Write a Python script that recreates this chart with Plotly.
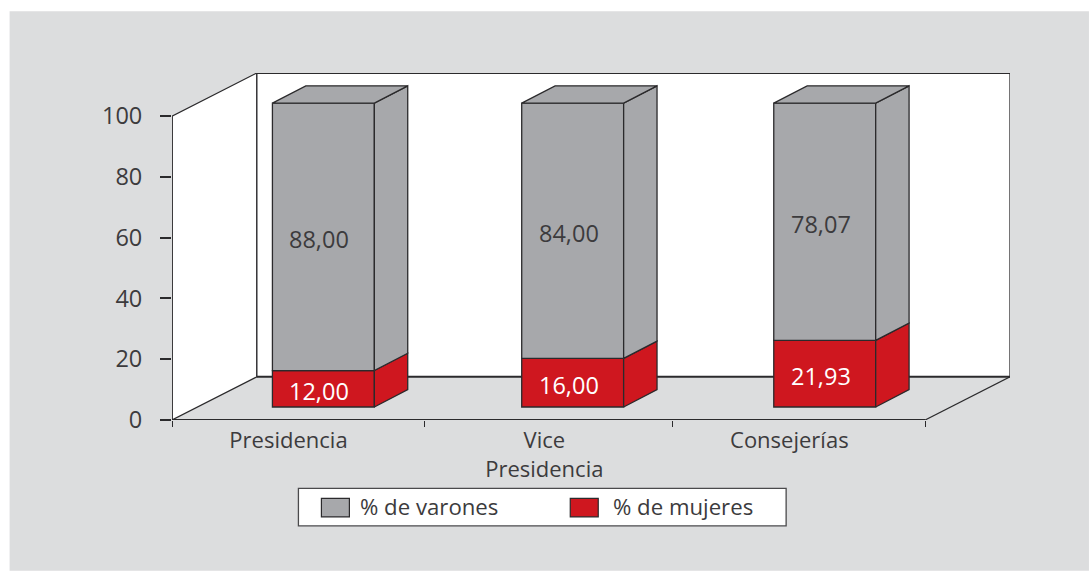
import plotly.graph_objects as go

categories = ["Presidencia", "Vice<br>Presidencia", "Consejerías"]
varones = [88.00, 84.00, 78.07]
mujeres = [12.00, 16.00, 21.93]
y_ticks = [0, 20, 40, 60, 80, 100]
x_boundaries = [0, 1.007, 1.995, 3]
label_positions = [0.464, 1.483, 2.459]
bar_centers = [0.603, 1.596, 2.600]

W, H = 1089, 571
L, R, T, B = 171.5, 1010, 72.7, 420
X_MAX = 3.338
Y_MAX = 114.2
WALL_DX, WALL_DY = X_MAX - 3, Y_MAX - 100
BAR_W = 0.406
BAR_BASE = 4.28
BAR_DX, BAR_DY = 0.133, 5.7

GRAY, RED, BG = "#a7a8ab", "#cf171f", "#dcddde"
INK, TEXT = "#2b2a2c", "#3c3b3d"
FONT = "Open Sans"
FS = 22
FS_NUM = 23.5


def fmt(v):
    return f"{v:.2f}".replace(".", ",")


def px(x):
    return (x - L) / (R - L)


def py(y):
    return (B - y) / (B - T)


fig = go.Figure()
shapes = [dict(type="rect", xref="paper", yref="paper", x0=px(9), x1=px(1089), y0=py(11), y1=py(571),
               fillcolor=BG, line_width=0, layer="below")]


def poly(pts):
    return "M" + "L".join(f"{a},{b}" for a, b in pts) + "Z"


# walls
shapes.append(dict(type="path", path=poly([(0, 0), (WALL_DX, WALL_DY), (WALL_DX, Y_MAX), (0, 100)]),
                   fillcolor="white", line=dict(color=INK, width=1.2), layer="below"))
shapes.append(dict(type="path", path=poly([(WALL_DX, WALL_DY), (X_MAX, WALL_DY), (X_MAX, Y_MAX), (WALL_DX, Y_MAX)]),
                   fillcolor="white", line=dict(color=INK, width=0), layer="below"))
for (a, b, c, d, w) in [(WALL_DX, Y_MAX, WALL_DX, WALL_DY, 1.3), (WALL_DX, WALL_DY, X_MAX, WALL_DY, 2),
                        (3, 0, X_MAX, WALL_DY, 1.2)]:
    shapes.append(dict(type="line", x0=a, y0=b, x1=c, y1=d, line=dict(color=INK, width=w), layer="below"))


# frame lines on the plot edge, as unclipped traces so their full width shows
for (xs, ys, w) in [([0, 3], [0, 0], 2), ([0, 0], [0, 100], 1.6),
                    ([WALL_DX, X_MAX], [Y_MAX, Y_MAX], 2), ([X_MAX, X_MAX], [WALL_DY, Y_MAX], 1.3)]:
    fig.add_trace(go.Scatter(x=xs, y=ys, mode="lines", line=dict(color=INK, width=w), cliponaxis=False,
                             hoverinfo="skip", showlegend=False))


def face(x, y, color):
    fig.add_trace(go.Scatter(x=x, y=y, mode="lines", fill="toself", fillcolor=color,
                             line=dict(color=INK, width=1.3), hoverinfo="skip", showlegend=False))


annotations = []
for xc, m, v in zip(bar_centers, mujeres, varones):
    xr = xc + BAR_W / 2
    xl = xc - BAR_W / 2
    y0, y1, y2 = BAR_BASE, BAR_BASE + m, BAR_BASE + m + v
    face([xr, xr + BAR_DX, xr + BAR_DX, xr, xr], [y0, y0 + BAR_DY, y1 + BAR_DY, y1, y0], RED)
    face([xr, xr + BAR_DX, xr + BAR_DX, xr, xr], [y1, y1 + BAR_DY, y2 + BAR_DY, y2, y1], GRAY)
    face([xl, xl + BAR_DX, xr + BAR_DX, xr, xl], [y2, y2 + BAR_DY, y2 + BAR_DY, y2, y2], GRAY)
    for val, mid, col in [(m, (y0 + y1) / 2, "white"), (v, (y1 + y2) / 2, TEXT)]:
        annotations.append(dict(x=xc, y=mid, text=fmt(val), showarrow=False, xshift=-4, yshift=-2,
                                font=dict(family=FONT, size=FS_NUM, color=col)))

fig.add_trace(go.Bar(name="% de mujeres", x=bar_centers, y=mujeres, base=[BAR_BASE] * 3, width=BAR_W,
                     marker=dict(color=RED, line=dict(color=INK, width=1.3)), showlegend=False))
fig.add_trace(go.Bar(name="% de varones", x=bar_centers, y=varones,
                     base=[BAR_BASE + m for m in mujeres], width=BAR_W,
                     marker=dict(color=GRAY, line=dict(color=INK, width=1.3)), showlegend=False))

# legend box
shapes.append(dict(type="rect", xref="paper", yref="paper", x0=px(298), x1=px(786), y0=py(488.5), y1=py(526),
                   fillcolor="white", line=dict(color="#4a4a4c", width=1.3), layer="below"))
for x0, color, name, tx in [(321, GRAY, "% de varones", 360), (570, RED, "% de mujeres", 613)]:
    shapes.append(dict(type="rect", xref="paper", yref="paper", x0=px(x0), x1=px(x0 + 28), y0=py(498.5), y1=py(517),
                       fillcolor=color, line=dict(color=INK, width=1.2), layer="below"))
    annotations.append(dict(xref="paper", yref="paper", x=px(tx), y=py(507), text=name, showarrow=False,
                            xanchor="left", yanchor="middle", borderpad=0, xshift=-1,
                            font=dict(family=FONT, size=FS + 0.2, color=TEXT)))

fig.update_layout(
    width=W, height=H, autosize=False, barmode="overlay",
    margin=dict(l=L, r=W - R, t=T, b=H - B, pad=0),
    paper_bgcolor="white", plot_bgcolor="rgba(0,0,0,0)",
    showlegend=False, shapes=shapes, annotations=annotations,
    font=dict(family=FONT, size=FS, color=TEXT),
    xaxis=dict(range=[0, X_MAX], tickvals=label_positions, ticktext=categories, ticks="", showgrid=False,
               zeroline=False, showline=False, ticklabelstandoff=5, tickfont=dict(family=FONT, size=FS, color=TEXT),
               minor=dict(tickvals=x_boundaries, ticks="outside", ticklen=6, tickwidth=1.3, tickcolor=INK,
                          showgrid=False)),
    yaxis=dict(range=[0, Y_MAX], tickvals=y_ticks, ticks="outside", ticklen=11, tickwidth=2, tickcolor=INK,
               showgrid=False, zeroline=False, showline=False, ticklabelstandoff=13,
               tickfont=dict(family=FONT, size=FS_NUM, color=TEXT)),
)

fig.write_html("out.html", config={"displayModeBar": False},
               post_script="document.body.style.margin='0';document.body.style.overflow='hidden';")
